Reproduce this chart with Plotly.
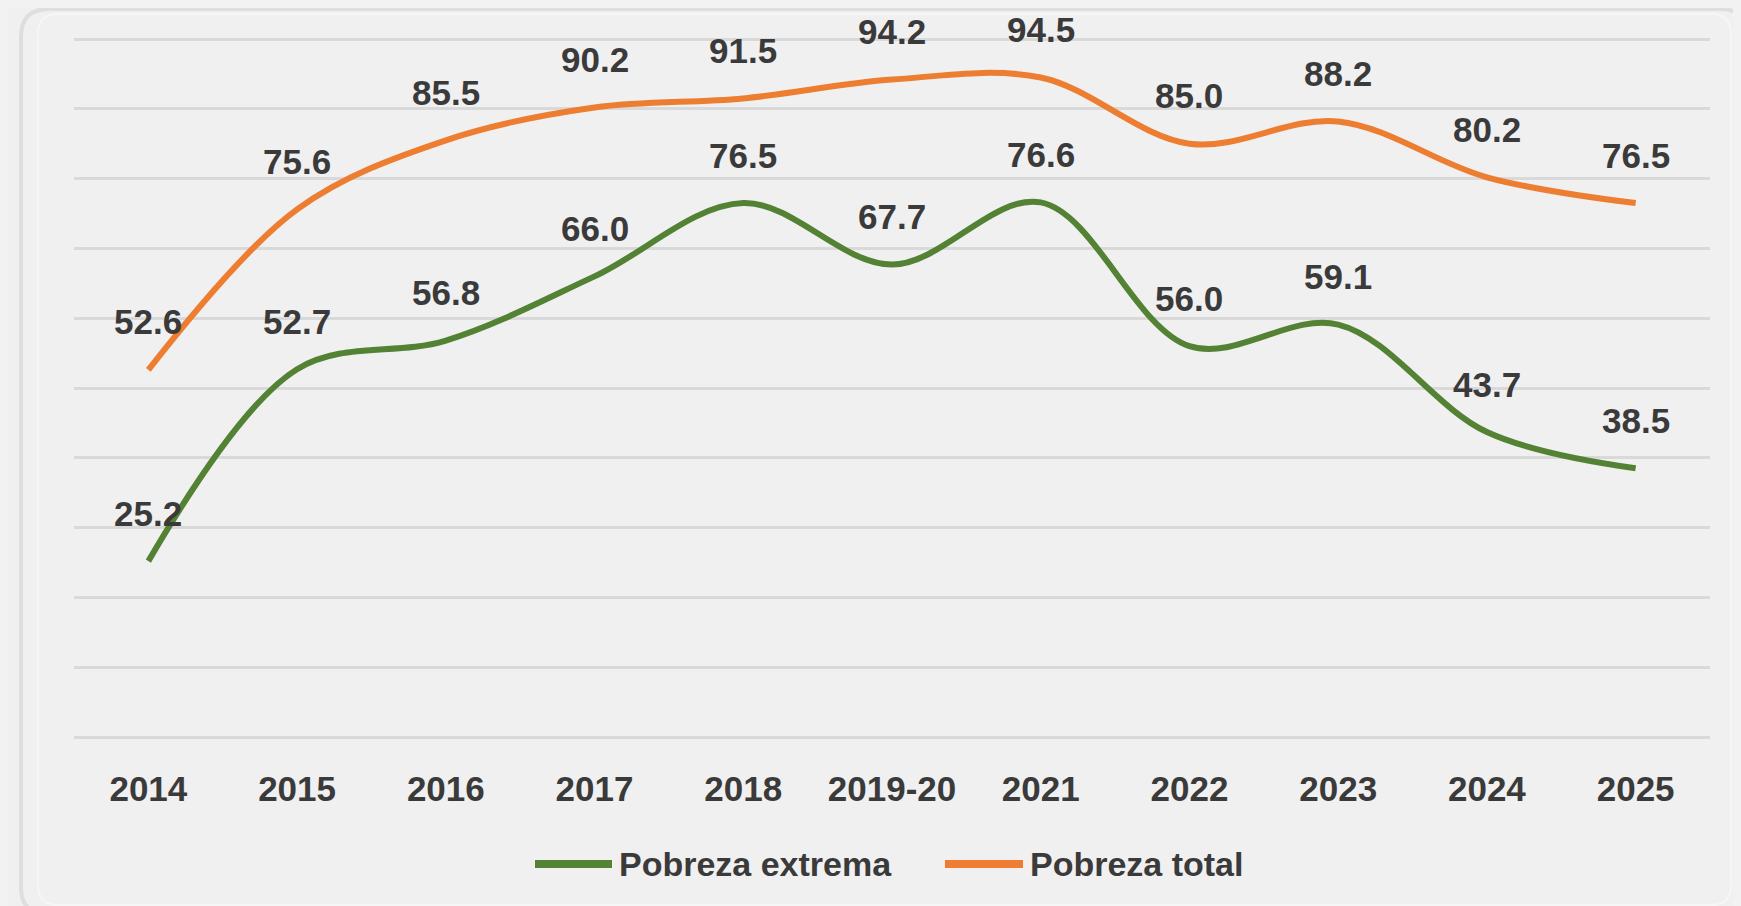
import plotly.graph_objects as go

categories = ["2014", "2015", "2016", "2017", "2018", "2019-20", "2021", "2022", "2023", "2024", "2025"]
pobreza_extrema = [25.2, 52.7, 56.8, 66.0, 76.5, 67.7, 76.6, 56.0, 59.1, 43.7, 38.5]
pobreza_total = [52.6, 75.6, 85.5, 90.2, 91.5, 94.2, 94.5, 85.0, 88.2, 80.2, 76.5]
series_names = ["Pobreza extrema", "Pobreza total"]

# the page body has an 8px default margin; work in window pixels and offset
OFF = 8
W, H = 1741 - OFF, 906 - OFF
L, R, T, B = 74 - OFF, 31, 37 - OFF, 169
PW, PH = W - L - R, H - T - B

GREEN = "#548235"
ORANGE = "#ED7D31"
TXT = "#3a3a3a"
FONT = "Liberation Sans"
FS = 35

xi = list(range(len(categories)))

fig = go.Figure()
fig.add_trace(go.Scatter(x=xi, y=pobreza_extrema, name=series_names[0], showlegend=False,
                         mode="lines", line=dict(color=GREEN, width=6, shape="spline", smoothing=1.0)))
fig.add_trace(go.Scatter(x=xi, y=pobreza_total, name=series_names[1], showlegend=False,
                         mode="lines", line=dict(color=ORANGE, width=6, shape="spline", smoothing=1.0)))

annotations = []
for series in (pobreza_extrema, pobreza_total):
    for i, v in zip(xi, series):
        annotations.append(dict(x=i, y=v, xref="x", yref="y", text=f"{v:.1f}", showarrow=False, yshift=48,
                                font=dict(family=FONT, size=FS, color=TXT, weight="bold")))

# window pixel -> paper coords
def px(x):
    return (x - OFF - L) / PW

def py(y):
    return (H - B - (y - OFF)) / PH

def frame(x0, y0, x1, y1, r):
    return (f"M {px(x0 + r)} {py(y0)} L {px(x1 - r)} {py(y0)} "
            f"Q {px(x1)} {py(y0)} {px(x1)} {py(y0 + r)} L {px(x1)} {py(y1 - r)} "
            f"Q {px(x1)} {py(y1)} {px(x1 - r)} {py(y1)} L {px(x0 + r)} {py(y1)} "
            f"Q {px(x0)} {py(y1)} {px(x0)} {py(y1 - r)} L {px(x0)} {py(y0 + r)} "
            f"Q {px(x0)} {py(y0)} {px(x0 + r)} {py(y0)} Z")

shapes = [
    dict(type="path", xref="paper", yref="paper", path=frame(21, 9, 1748, 915, 28),
         line=dict(color="#dedede", width=4), layer="below"),
    dict(type="path", xref="paper", yref="paper", path=frame(38, 14, 1731, 905, 20),
         line=dict(color="#f6f6f6", width=2), layer="below"),
]

# legend drawn manually (long line samples as in the reference)
legend_items = [(series_names[0], GREEN, 531, 616), (series_names[1], ORANGE, 941, 1027)]
LEG_Y = 864
for name, color, x0, x1 in legend_items:
    shapes.append(dict(type="line", xref="paper", yref="paper", x0=px(x0 + 4), x1=px(x1 - 4),
                       y0=py(LEG_Y), y1=py(LEG_Y), line=dict(color=color, width=8)))
    annotations.append(dict(xref="paper", yref="paper", x=px(x1 + 1), y=py(LEG_Y), xanchor="left",
                            yanchor="middle", text=name, showarrow=False,
                            font=dict(family=FONT, size=FS - 1, color=TXT, weight="bold")))

fig.update_layout(
    width=W, height=H,
    margin=dict(l=L, r=R, t=T, b=B, autoexpand=False),
    paper_bgcolor="#f0f0f0", plot_bgcolor="#f0f0f0",
    showlegend=False,
    xaxis=dict(range=[-0.5, len(categories) - 0.5], tickmode="array", tickvals=xi, ticktext=categories,
               showgrid=False, zeroline=False, showline=False,
               ticks="outside", ticklen=21, tickcolor="rgba(0,0,0,0)",
               tickfont=dict(family=FONT, size=FS, color=TXT, weight="bold"),
               fixedrange=True),
    yaxis=dict(range=[0, 100.3], dtick=10, tick0=0, showgrid=True, gridcolor="#d9d9d9", gridwidth=3,
               zeroline=True, zerolinecolor="#d9d9d9", zerolinewidth=3,
               showticklabels=False, showline=False, fixedrange=True),
    annotations=annotations,
    shapes=shapes,
)

fig.write_html("out.html", post_script="document.body.style.background='#f2f2f2';")
